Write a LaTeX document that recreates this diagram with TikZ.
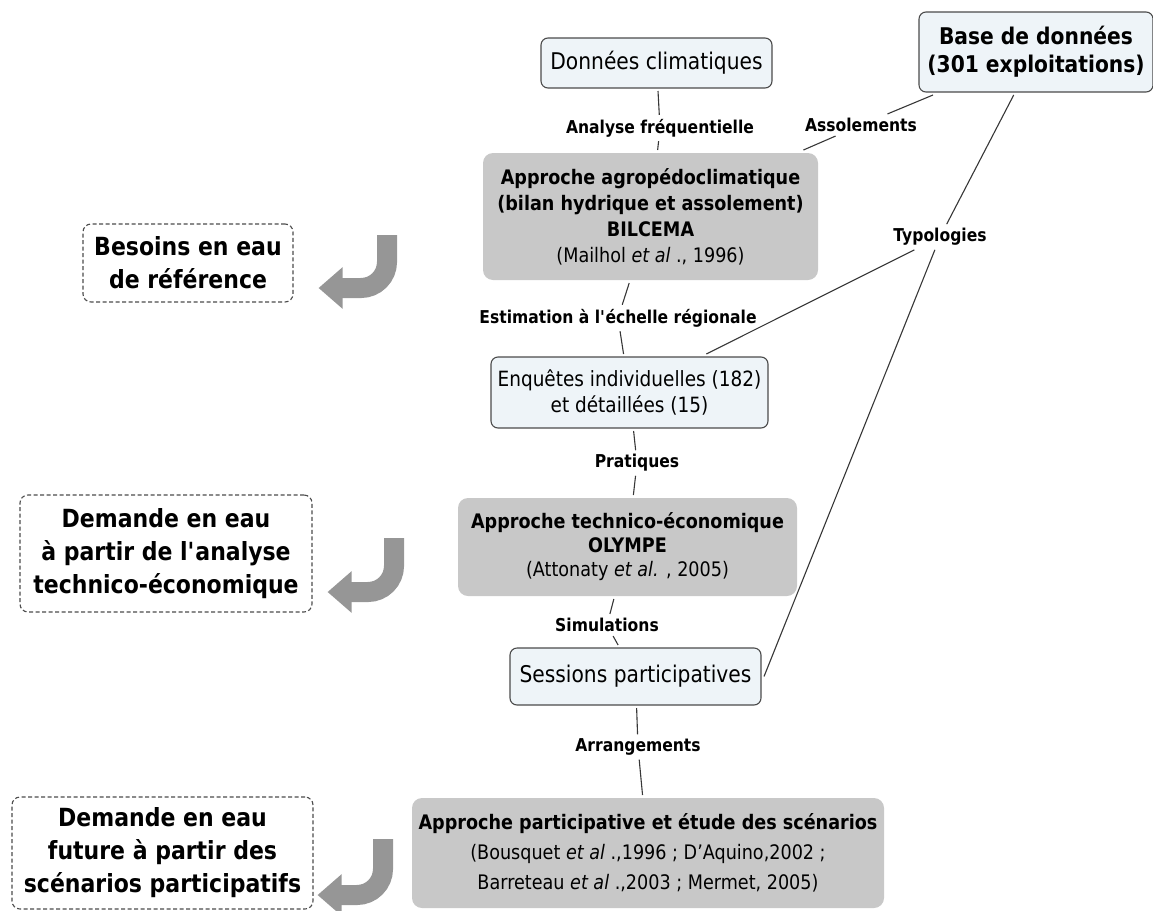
\documentclass[tikz,border=0pt]{standalone}
\usepackage{fontspec}
\setmainfont{DejaVu Sans}[FakeStretch=0.88]
\usepackage{tikz}
\usetikzlibrary{arrows.meta,positioning}
\definecolor{conceptfill}{RGB}{238,244,248}
\definecolor{conceptline}{RGB}{75,75,75}
\definecolor{approchefill}{RGB}{200,200,200}
\definecolor{flechegris}{RGB}{150,150,150}
\definecolor{lienline}{RGB}{55,55,55}
\tikzset{
      concept/.style   = {draw=conceptline, fill=conceptfill, line width=1.1pt, rounded corners=7pt, align=center, outer sep=3pt, font=\fontsize{22}{26}\selectfont},
      approche/.style  = {fill=approchefill, rounded corners=10pt, align=center, outer sep=3pt, font=\fontsize{20}{26}\selectfont},
      besoin/.style    = {draw=conceptline, dash pattern=on 4pt off 2.5pt, line width=1.1pt, rounded corners=8pt, align=center, font=\bfseries\fontsize{25}{33}\selectfont},
      lien/.style      = {font=\bfseries\fontsize{17.7}{21}\selectfont, inner sep=4pt},
      liaison/.style   = {draw=lienline, line width=1.1pt},
      grandefleche/.style = {draw=flechegris, line width=20pt, rounded corners=26pt, -{Triangle[width=40pt,length=24pt]}},
    }

\begin{document}
\begin{tikzpicture}[x=1pt, y=-1pt,
        node distance=60pt,
        ]
        \useasboundingbox (0,0) rectangle (1153,910);
        % colonne centrale
        \node[concept, minimum width=231pt, minimum height=50pt, font=\fontsize{23}{27}\selectfont] (donnees) at (656.5,63) {Données climatiques};
        \node[lien, below of=donnees, node distance=65pt, xshift=3.5pt] (analyse) {Analyse fréquentielle};
        \node[approche, minimum width=335pt, minimum height=127pt, below of=analyse, node distance=88.5pt, xshift=-9.5pt] (agro) {\textbf{Approche agropédoclimatique}\\ \textbf{(bilan hydrique et assolement)}\\ \textbf{BILCEMA}\\ (Mailhol \textit{et al} ., 1996)};
        \node[lien, below of=agro, node distance=101.5pt, xshift=-32.5pt] (estim) {Estimation à l\textquotesingle échelle régionale};
        \node[concept, minimum width=277pt, minimum height=71pt, font=\fontsize{21}{26}\selectfont, below of=estim, node distance=74.5pt, xshift=11.5pt] (enquetes) {Enquêtes individuelles (182)\\ et détaillées (15)};
        \node[lien, below of=enquetes, node distance=70.5pt, xshift=7.5pt] (prat) {Pratiques};
        \node[approche, minimum width=339pt, minimum height=98pt, font=\fontsize{20}{24}\selectfont, below of=prat, node distance=84pt, xshift=-9.5pt] (techno) {\textbf{Approche technico-économique}\\ \textbf{OLYMPE}\\ (Attonaty \textit{et al.} , 2005)};
        \node[lien, below of=techno, node distance=78pt, xshift=-20.5pt] (simul) {Simulations};
        \node[concept, minimum width=251pt, minimum height=57pt, font=\fontsize{23}{27}\selectfont, below of=simul, node distance=51.5pt, xshift=28.5pt] (sessions) {Sessions participatives};
        \node[lien, below of=sessions, node distance=70.5pt, xshift=2.5pt] (arrang) {Arrangements};
        \node[approche, minimum width=472pt, minimum height=110pt, font=\fontsize{20}{30}\selectfont, below of=arrang, node distance=106pt, xshift=10pt] (particip) {\textbf{Approche participative et étude des scénarios}\\ (Bousquet \textit{et al} .,1996 ; D’Aquino,2002 ;\\ Barreteau \textit{et al} .,2003 ; Mermet, 2005)};
        % base de donnees
        \node[concept, font=\bfseries\fontsize{23}{28}\selectfont, minimum width=234pt, minimum height=80pt, right of=donnees, node distance=379.5pt, yshift=11pt] (base) {Base de données\\ (301 exploitations)};
        \node[lien, right of=analyse, node distance=201pt, yshift=3pt] (assol) {Assolements};
        \node[lien, below of=base, node distance=185pt, xshift=-96pt] (typo) {Typologies};
        % besoins et demandes
        \node[besoin, minimum width=210pt, minimum height=78pt, left of=agro, node distance=462.5pt, yshift=-46.5pt] (besoins) {Besoins en eau\\ de référence};
        \node[besoin, minimum width=292pt, minimum height=117pt, left of=techno, node distance=461.5pt, yshift=-6.5pt] (demande) {Demande en eau\\ à partir de l\textquotesingle analyse\\ technico-économique};
        \node[besoin, minimum width=301pt, minimum height=112pt, left of=particip, node distance=485.5pt] (future) {Demande en eau\\ future à partir des\\ scénarios participatifs};

        \path (donnees) edge[liaison] (analyse);
        \path (analyse) edge[liaison] (agro);
        \path (base) edge[liaison] (assol);
        \path (assol) edge[liaison] (agro);
        \path (base) edge[liaison] (typo);
        \path (typo) edge[liaison] (enquetes);
        \path (typo) edge[liaison] (sessions.east);
        \path (agro) edge[liaison] (estim);
        \path (estim) edge[liaison] (enquetes);
        \path (enquetes) edge[liaison] (prat);
        \path (prat) edge[liaison] (techno);
        \path (techno) edge[liaison] (simul);
        \path (simul) edge[liaison] (sessions);
        \path (sessions) edge[liaison] (arrang);
        \path (arrang) edge[liaison] (particip);

        \coordinate (f1) at (387,235);
        \coordinate (f2) at (394,538);
        \coordinate (f3) at (383,839);
        \draw[grandefleche, shorten >=25pt] (f1) |- ([yshift=-25pt]besoins.east);
        \draw[grandefleche, shorten >=15pt] (f2) |- ([yshift=-38.5pt]demande.east);
        \draw[grandefleche, shorten >=4pt] (f3) |- ([yshift=-42pt]future.east);
\end{tikzpicture}
\end{document}
